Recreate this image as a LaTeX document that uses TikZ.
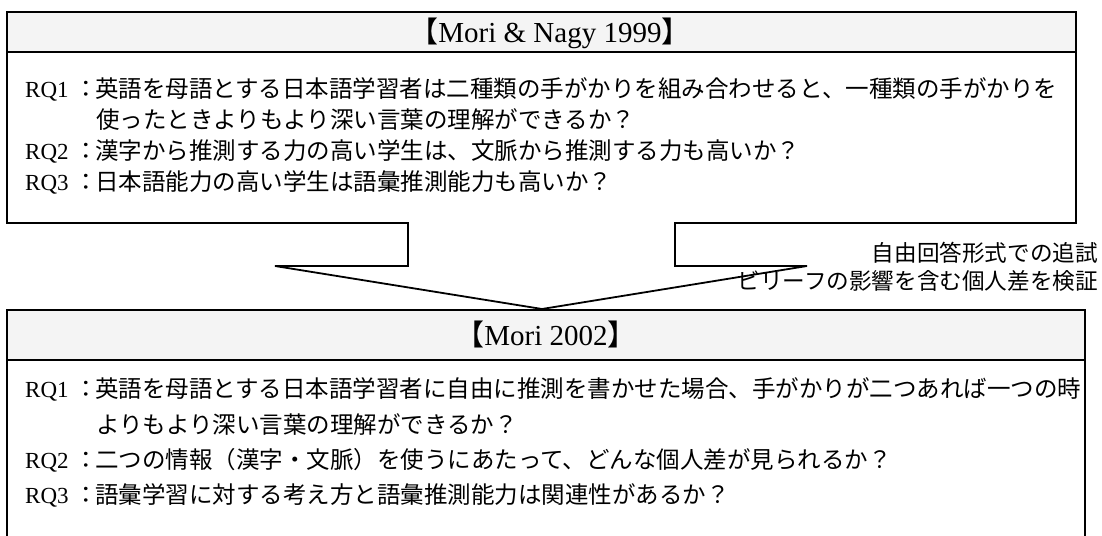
\documentclass[tikz,border=0pt]{standalone}
\usepackage{fontspec}
\setmainfont{Liberation Serif}
\newfontfamily\jp{Noto Sans CJK JP}
\begin{document}
\begin{tikzpicture}[x=1pt,y=-1pt,
  boxline/.style={line width=1.8pt,line join=miter},
  band/.style={fill=gray!9},
  jtxt/.style={anchor=base west,inner sep=0pt,font=\jp\fontsize{23.5}{26}\selectfont},
  rqlab/.style={anchor=base west,inner sep=0pt,font=\fontsize{23}{26}\selectfont},
  colon/.style={anchor=base,inner sep=0pt,font=\jp\fontsize{23.5}{26}\selectfont},
  head/.style={anchor=base,inner sep=0pt,font=\fontsize{29}{31}\selectfont},
  side/.style={anchor=base east,inner sep=0pt,font=\jp\fontsize{22.6}{25}\selectfont}]
\useasboundingbox (0,0) rectangle (1102,535);
\clip (0,0) rectangle (1102,535);
% top callout box
\coordinate (A1) at (7,12);
\coordinate (A2) at (1076,12);
\coordinate (A3) at (1076,223);
\coordinate (N1) at (675,223);
\coordinate (N2) at (675,266);
\coordinate (N3) at (807,266);
\coordinate (AP) at (542,309);
\coordinate (N4) at (275,266);
\coordinate (N5) at (408,266);
\coordinate (N6) at (408,223);
\coordinate (A4) at (7,223);
\fill[band] (7,12) rectangle (1076,52);
\draw[boxline] (A4) -- (A1) -- (A2) -- (A3) -- (N1) -- (N2) -- (N3) -- (AP) -- (N4) -- (N5) -- (N6) -- cycle;
\draw[boxline] (7,52) -- (1076,52);
% bottom box
\fill[band] (7,310) rectangle (1085,360);
\draw[boxline] (7,545) -- (7,310) -- (1085,310) -- (1085,545);
\draw[boxline] (7,360) -- (1085,360);
% headers
\node[head] (h1) at (550,42) {{\jp 【}Mori \& Nagy 1999{\jp 】}};
\node[head] (h2) at (546,345) {{\jp 【}Mori 2002{\jp 】}};
% top texts
\node[rqlab] (a1) at (25,97) {RQ1};
\node[colon] (a1c) at (86,97) {：};
\node[jtxt] (a1t) at (95,97) {英語を母語とする日本語学習者は二種類の手がかりを組み合わせると、一種類の手がかりを};
\node[jtxt] (a1u) at (96,128) {使ったときよりもより深い言葉の理解ができるか？};
\node[rqlab] (a2) at (25,159) {RQ2};
\node[colon] (a2c) at (86,159) {：};
\node[jtxt] (a2t) at (95,159) {漢字から推測する力の高い学生は、文脈から推測する力も高いか？};
\node[rqlab] (a3) at (25,190) {RQ3};
\node[colon] (a3c) at (86,190) {：};
\node[jtxt] (a3t) at (95,190) {日本語能力の高い学生は語彙推測能力も高いか？};
% side labels
\node[side] (s1) at (1098,261) {自由回答形式での追試};
\node[side] (s2) at (1098,289) {ビリーフの影響を含む個人差を検証};
% bottom texts
\node[rqlab] (b1) at (25,397) {RQ1};
\node[colon] (b1c) at (86,397) {：};
\node[jtxt] (b1t) at (95,397) {英語を母語とする日本語学習者に自由に推測を書かせた場合、手がかりが二つあれば一つの時};
\node[jtxt] (b1u) at (96,433) {よりもより深い言葉の理解ができるか？};
\node[rqlab] (b2) at (25,468) {RQ2};
\node[colon] (b2c) at (86,468) {：};
\node[jtxt] (b2t) at (95,468) {二つの情報（漢字・文脈）を使うにあたって、どんな個人差が見られるか？};
\node[rqlab] (b3) at (25,503) {RQ3};
\node[colon] (b3c) at (86,503) {：};
\node[jtxt] (b3t) at (95,503) {語彙学習に対する考え方と語彙推測能力は関連性があるか？};
\end{tikzpicture}
\end{document}
